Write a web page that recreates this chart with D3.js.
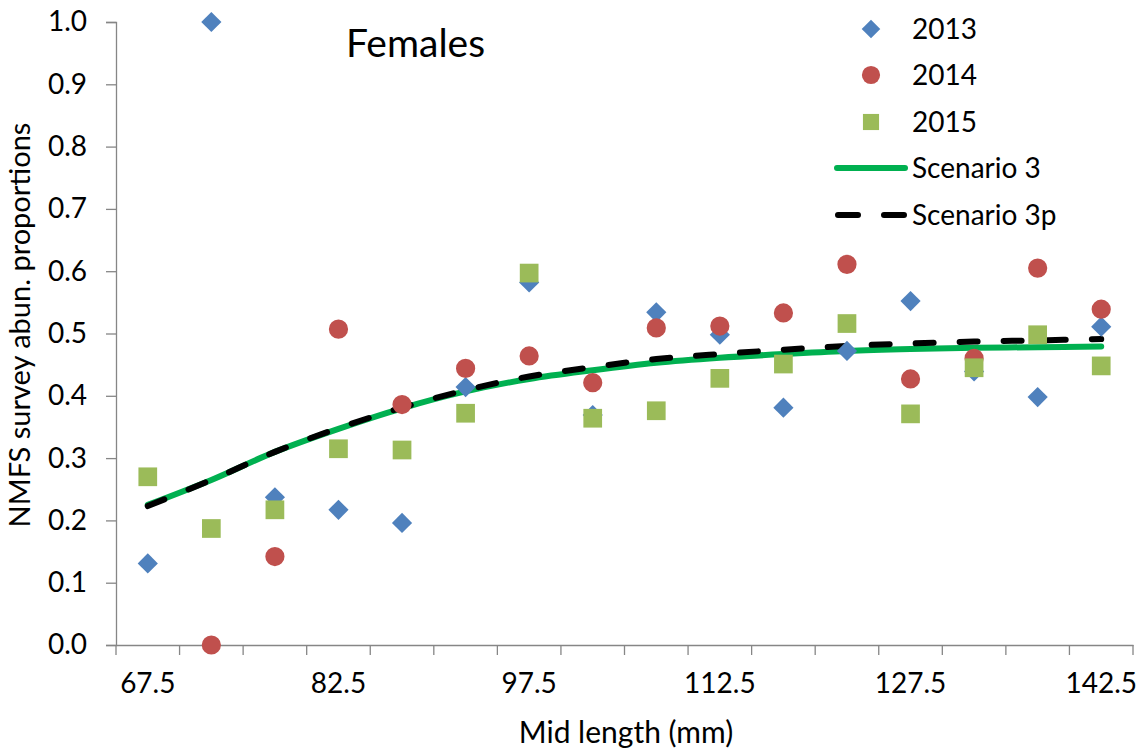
<!DOCTYPE html>
<html>
<head>
<meta charset="utf-8">
<script src="https://cdn.jsdelivr.net/npm/d3@7"></script>
<style>
  html, body { margin: 0; padding: 0; background: #ffffff; }
  svg { display: block; font-family: Lato, "Open Sans", sans-serif; }
</style>
</head>
<body>
<svg id="chart" width="1144" height="750"></svg>
<script>
// ---- data ----
const categories = ["67.5","72.5","77.5","82.5","87.5","92.5","97.5","102.5","107.5","112.5","117.5","122.5","127.5","132.5","137.5","142.5"];
const xTickLabels = ["67.5","82.5","97.5","112.5","127.5","142.5"];
const yTicks = [0,0.1,0.2,0.3,0.4,0.5,0.6,0.7,0.8,0.9,1.0];
const s2013 = [0.131,1.000,0.237,0.217,0.196,0.414,0.582,0.369,0.534,0.498,0.381,0.472,0.552,0.439,0.398,0.511];
const s2014 = [null,0.000,0.142,0.507,0.386,0.444,0.464,0.421,0.509,0.512,0.533,0.611,0.427,0.460,0.605,0.539];
const s2015 = [0.270,0.187,0.217,0.315,0.313,0.372,0.597,0.364,0.376,0.428,0.451,0.516,0.371,0.445,0.498,0.448];
const scenario3 = [0.225,0.265,0.310,0.347,0.380,0.407,0.427,0.441,0.453,0.461,0.467,0.472,0.475,0.477,0.478,0.479];
const scenario3p = [0.223,0.265,0.310,0.348,0.381,0.409,0.431,0.446,0.459,0.467,0.474,0.480,0.484,0.487,0.489,0.491];
const legendLabels = ["2013","2014","2015","Scenario 3","Scenario 3p"];

(function () {
// ---- layout ----
const svg = d3.select("#chart");
const pL = 116, pR = 1133, pT = 22, pB = 645;
const x = d3.scaleBand().domain(categories).range([pL, pR]).padding(0);
const cx = c => x(c) + x.bandwidth() / 2;
const y = d3.scaleLinear().domain([0, 1]).range([pB, pT]);
const axisColor = "#868686";
const c2013 = "#4F81BD", c2014 = "#C0504D", c2015 = "#9BBB59", cS3 = "#00B050";
const FONT = "Lato, 'Open Sans', sans-serif";

// y axis
const yAxis = svg.append("g").attr("transform", `translate(${pL},0)`)
  .call(d3.axisLeft(y).tickValues(yTicks).tickSize(10).tickPadding(19).tickFormat(d3.format(".1f")));
yAxis.select(".domain").attr("stroke", axisColor).attr("stroke-width", 1.3);
yAxis.selectAll(".tick line").attr("stroke", axisColor).attr("stroke-width", 1.3);
yAxis.selectAll(".tick text").attr("fill", "#000").style("font-size", "28px").style("font-family", FONT);

// x axis
const xAxis = svg.append("g").attr("transform", `translate(0,${pB})`)
  .call(d3.axisBottom(x).tickSize(0).tickPadding(28)
    .tickFormat(d => xTickLabels.includes(d) ? d : ""));
xAxis.select(".domain").attr("stroke", axisColor).attr("stroke-width", 1.3);
xAxis.selectAll(".tick text").attr("fill", "#000").style("font-size", "28px").style("font-family", FONT);
// boundary tick marks
const bounds = categories.map(c => x(c)).concat([x(categories[categories.length - 1]) + x.bandwidth()]);
svg.append("g").selectAll("line").data(bounds).join("line")
  .attr("x1", d => d).attr("x2", d => d)
  .attr("y1", pB).attr("y2", pB + 10)
  .attr("stroke", axisColor).attr("stroke-width", 1.3);

// axis titles
svg.append("text").attr("x", 626).attr("y", 743)
  .attr("text-anchor", "middle").style("font-size", "30px").text("Mid length (mm)");
svg.append("text").attr("transform", `translate(30,325) rotate(-90)`)
  .attr("text-anchor", "middle").style("font-size", "29px").text("NMFS survey abun. proportions");

// title
svg.append("text").attr("x", 346).attr("y", 57).style("font-size", "39px").text("Females");

// lines
const lineGen = d3.line().x((d, i) => cx(categories[i])).y(d => y(d)).curve(d3.curveCatmullRom.alpha(0.5));
svg.append("path").attr("d", lineGen(scenario3)).attr("fill", "none")
  .attr("stroke", cS3).attr("stroke-width", 6).attr("stroke-linecap", "round");
svg.append("path").attr("d", lineGen(scenario3p)).attr("fill", "none")
  .attr("stroke", "#000").attr("stroke-width", 6).attr("stroke-linecap", "round")
  .attr("stroke-dasharray", "18,26");

// markers
const diamond = d3.symbol().type(d3.symbolDiamond2).size(260);
const circle = d3.symbol().type(d3.symbolCircle).size(290);
const square = d3.symbol().type(d3.symbolSquare).size(350);
function drawSeries(vals, sym, color) {
  svg.append("g").selectAll("path")
    .data(vals.map((v, i) => ({ v, c: categories[i] })).filter(d => d.v !== null))
    .join("path")
    .attr("d", sym)
    .attr("transform", d => `translate(${cx(d.c)},${y(d.v)})`)
    .attr("fill", color);
}
drawSeries(s2013, diamond, c2013);
drawSeries(s2014, circle, c2014);
drawSeries(s2015, square, c2015);

// legend
const leg = svg.append("g");
const legRows = [29, 75, 122, 168, 215];
const legMarkX = 871, legTextX = 912;
leg.append("path").attr("d", d3.symbol().type(d3.symbolDiamond2).size(220)())
  .attr("transform", `translate(${legMarkX},${legRows[0]})`).attr("fill", c2013);
leg.append("path").attr("d", d3.symbol().type(d3.symbolCircle).size(260)())
  .attr("transform", `translate(${legMarkX},${legRows[1]})`).attr("fill", c2014);
leg.append("path").attr("d", d3.symbol().type(d3.symbolSquare).size(260)())
  .attr("transform", `translate(${legMarkX},${legRows[2]})`).attr("fill", c2015);
leg.append("line").attr("x1", 837).attr("x2", 905).attr("y1", legRows[3]).attr("y2", legRows[3])
  .attr("stroke", cS3).attr("stroke-width", 6).attr("stroke-linecap", "round");
leg.append("line").attr("x1", 838).attr("x2", 904).attr("y1", legRows[4]).attr("y2", legRows[4])
  .attr("stroke", "#000").attr("stroke-width", 6).attr("stroke-linecap", "round")
  .attr("stroke-dasharray", "20,26");
leg.selectAll("text").data(legendLabels).join("text")
  .attr("x", legTextX).attr("y", (d, i) => legRows[i] + 10)
  .style("font-size", "28px").text(d => d);
})();
</script>
</body>
</html>
